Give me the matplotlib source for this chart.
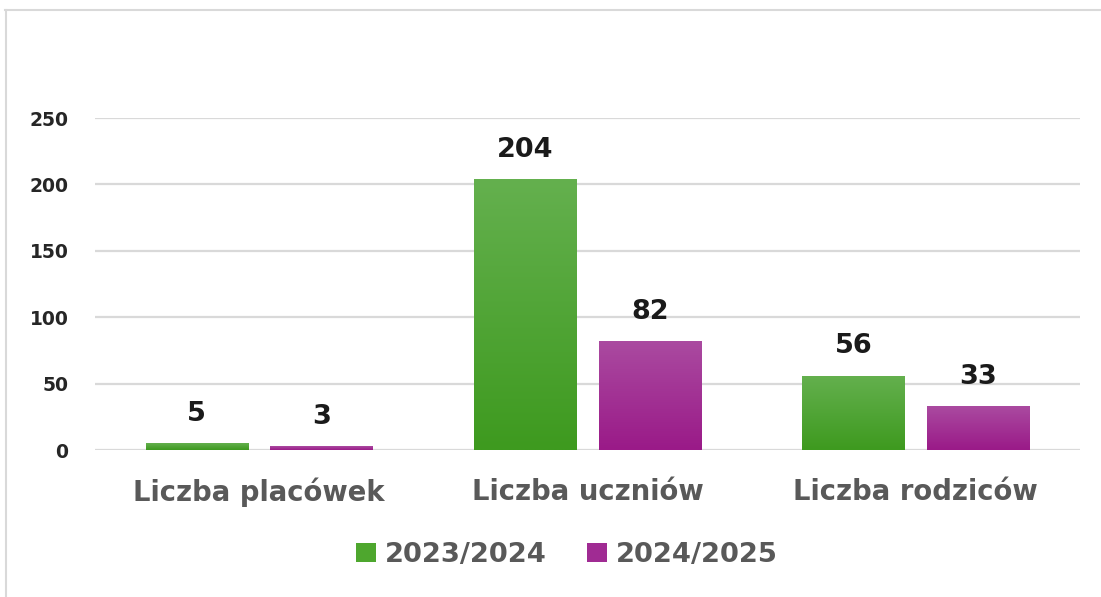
import matplotlib
matplotlib.use("Agg")
import matplotlib.pyplot as plt
import numpy as np
from matplotlib.colors import LinearSegmentedColormap
from matplotlib.patches import Patch
from matplotlib.lines import Line2D

categories = ["Liczba placówek", "Liczba uczniów", "Liczba rodziców"]
series_names = ["2023/2024", "2024/2025"]
values_2023 = [5, 204, 56]
values_2024 = [3, 82, 33]
yticks = [0, 50, 100, 150, 200, 250]

colors = ["#4EA72E", "#A02B93"]
# top -> bottom shades for the bar gradients
grad = [("#64b04e", "#3e9a1f"), ("#aa4aa0", "#9a1a88")]

plt.rcParams["font.family"] = ["DejaVu Sans"]
plt.rcParams["font.weight"] = "bold"

fig = plt.figure(figsize=(11.01, 5.97), dpi=100)
ax = fig.add_axes([95 / 1101, 1 - 450 / 597, 985 / 1101, 332 / 597])

x = np.arange(len(categories))
width = 0.311
offset = 0.19

for i, vals in enumerate([values_2023, values_2024]):
    xs = x + (offset if i else -offset)
    bars = ax.bar(xs, vals, width, color=colors[i], zorder=3, linewidth=0)
    cmap = LinearSegmentedColormap.from_list("g%d" % i, [grad[i][1], grad[i][0]])
    for b, v in zip(bars, vals):
        bx, by = b.get_x(), b.get_y()
        im = ax.imshow(np.linspace(0, 1, 100).reshape(-1, 1), origin="lower",
                       extent=[bx, bx + b.get_width(), by, by + b.get_height()],
                       aspect="auto", cmap=cmap, zorder=4)
        im.set_clip_path(b)
        ax.annotate(str(v), (b.get_x() + b.get_width() / 2, v),
                    xytext=(0, 16), textcoords="offset points",
                    ha="center", va="baseline", fontsize=19.5,
                    fontweight="bold", color="#1a1a1a", zorder=5)

ax.set_xlim(-0.5, 2.5)
ax.set_ylim(0, 250)
ax.set_yticks(yticks)
ax.yaxis.grid(True, color="#d9d9d9", linewidth=1.6, zorder=0)
ax.set_axisbelow(True)
for s in ax.spines.values():
    s.set_visible(False)
ax.tick_params(axis="y", length=0, pad=19, labelsize=13.5, labelcolor="#262626")
ax.tick_params(axis="x", length=0, pad=20, labelsize=19.8, labelcolor="#595959")
ax.set_xticks(x)
ax.set_xticklabels(categories)
for t in ax.get_yticklabels() + ax.get_xticklabels():
    t.set_fontweight("bold")

handles = [Patch(facecolor=c, edgecolor="none") for c in colors]
fig.legend(handles, series_names, loc="center", bbox_to_anchor=(567 / 1101, 1 - 555 / 597),
           ncol=2, frameon=False, labelcolor="#595959",
           handlelength=0.72, handleheight=0.72, handletextpad=0.35, columnspacing=1.45,
           prop={"weight": "bold", "size": 19.7})

# light frame on top and left
fig.add_artist(Line2D([5 / 1101, 1], [1 - 9.5 / 597] * 2, color="#d9d9d9", lw=1.5))
fig.add_artist(Line2D([6 / 1101] * 2, [0, 1 - 9.5 / 597], color="#d9d9d9", lw=1.5))

fig.savefig("out.png", dpi=100, facecolor="white")
